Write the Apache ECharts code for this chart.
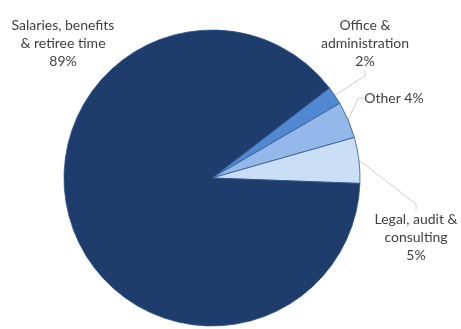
<!DOCTYPE html>
<html>
<head>
<meta charset="utf-8">
<script src="https://cdn.jsdelivr.net/npm/echarts@6/dist/echarts.min.js"></script>
<style>
  html, body { margin: 0; padding: 0; background: #ffffff; }
  #chart { width: 461px; height: 329px; }
</style>
</head>
<body>
<div id="chart"></div>
<script>
// Spending categories, share of total (%)
const categories = [
  'Office &\nadministration',
  'Other',
  'Legal, audit &\nconsulting',
  'Salaries, benefits\n& retiree time'
];
const shares = [2, 4, 5, 89];
const colors = ['#5088d2', '#93b8e9', '#cadef6', '#1e3c6c'];

// Where each slice's label block sits (centre of the text block)
const labelSpots = [
  { x: 365, y: 43 },
  { x: 394, y: 98 },
  { x: 416, y: 237 },
  { x: 63, y: 43 }
];

const chart = echarts.init(document.getElementById('chart'), null, { renderer: 'canvas' });

const data = categories.map((name, i) => ({
  name: name,
  value: shares[i],
  itemStyle: { color: colors[i] },
  labelLine: { show: i !== 3 }
}));

chart.setOption({
  animation: false,
  backgroundColor: '#ffffff',
  series: [{
    type: 'pie',
    center: [212, 178],
    radius: 148,
    startAngle: 37.5,
    clockwise: true,
    data: data,
    itemStyle: { borderColor: '#2c5590', borderWidth: 0.8 },
    label: {
      show: true,
      position: 'outside',
      overflow: 'none',
      fontFamily: 'Lato, "Open Sans", sans-serif',
      fontSize: 14,
      color: '#404040',
      lineHeight: 18,
      align: 'center',
      formatter: function (p) {
        return p.name === 'Other'
          ? p.name + ' ' + p.value + '%'
          : p.name + '\n' + p.value + '%';
      }
    },
    labelLine: {
      show: true,
      length: 8,
      length2: 6,
      lineStyle: { color: '#d8cccc', width: 1 }
    },
    labelLayout: function (params) {
      const s = labelSpots[params.dataIndex];
      return {
        x: s.x,
        y: s.y,
        align: 'center',
        verticalAlign: 'middle'
      };
    },
    emphasis: { disabled: true }
  }]
});
</script>
</body>
</html>
